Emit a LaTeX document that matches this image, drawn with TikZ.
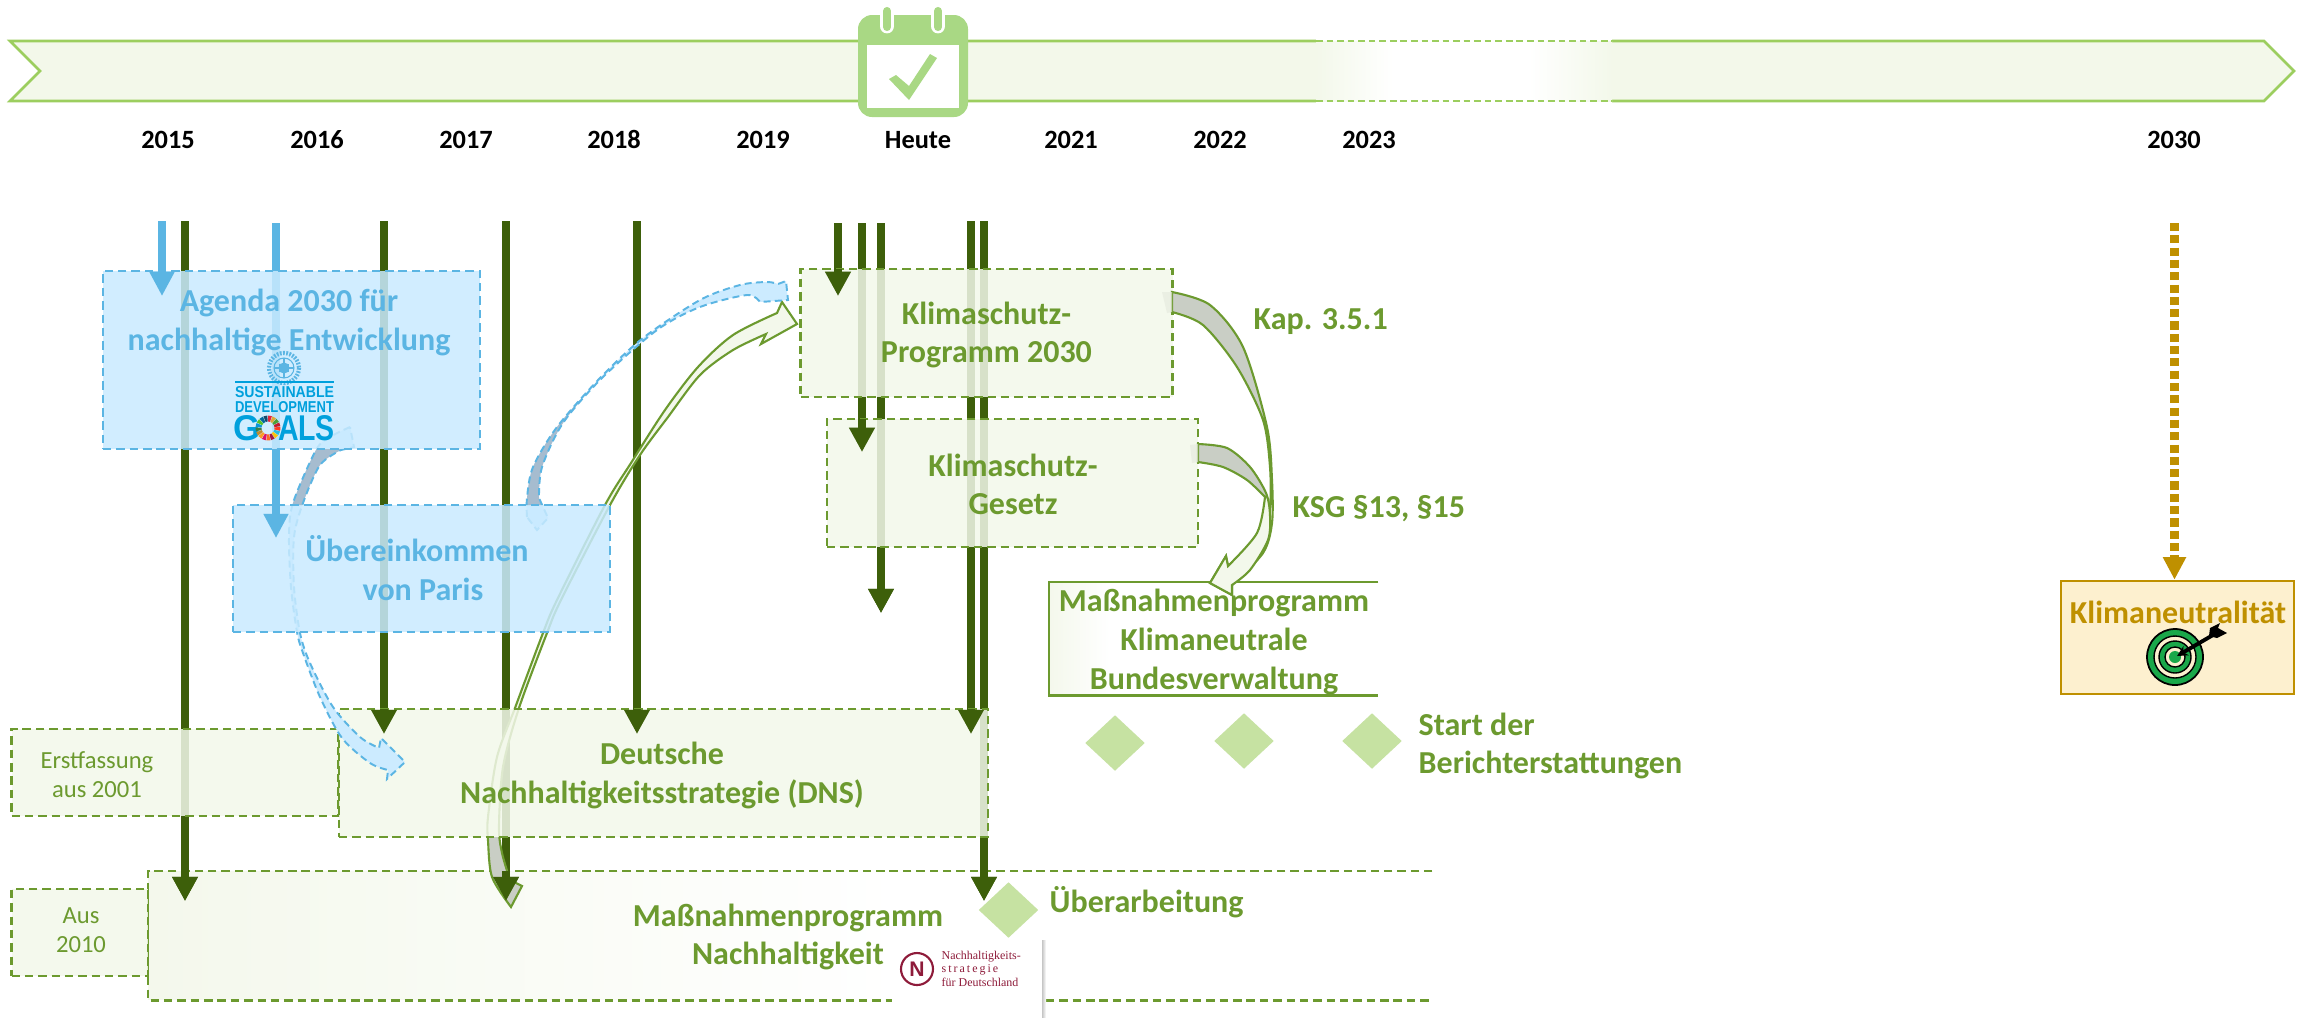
\documentclass[tikz,border=0pt]{standalone}
\usepackage{fontspec}
\setmainfont{Carlito}[Numbers=Lining]
\newfontfamily\logofont{Liberation Sans}
\newfontfamily\logoserif{Liberation Serif}
\usetikzlibrary{arrows.meta,shapes.geometric}
\definecolor{barfill}{HTML}{F3F8EA}
\definecolor{barline}{HTML}{9CCE5F}
\definecolor{calgreen}{HTML}{A9D884}
\definecolor{dgreen}{HTML}{3D5F0A}
\definecolor{mgreen}{HTML}{6C9A2F}
\definecolor{boxgreen}{HTML}{F3F8EB}
\definecolor{fadegreen}{HTML}{F4F8EC}
\definecolor{sblue}{HTML}{5BB5E3}
\definecolor{boxblue}{HTML}{C9EAFF}
\definecolor{bandblue}{HTML}{CCEBFF}
\definecolor{bandgrey}{HTML}{A6BCCF}
\definecolor{arcgrey}{HTML}{C9CEC5}
\definecolor{gold}{HTML}{BF9000}
\definecolor{goldfill}{HTML}{FDF0CF}
\definecolor{diam}{HTML}{C6E2A2}
\definecolor{sdgblue}{HTML}{00A0DC}
\definecolor{nred}{HTML}{8E1B3A}
\definecolor{targetgreen}{HTML}{1AA84A}
\newlength\pxu \setlength\pxu{0.01cm}
\tikzset{
  x=0.01cm,y=-0.01cm,
  sized/.style 2 args={minimum width={#1*0.01cm},minimum height={#2*0.01cm},inner sep=0pt},
  dashstroke/.style={line width=0.65pt,dash pattern=on 2.4pt off 1.4pt},
  greenbox/.style={draw=mgreen,fill=boxgreen,fill opacity=.85,dashstroke},
  bluebox/.style={draw=sblue,fill=boxblue,fill opacity=.85,dashstroke},
  greenarrow/.style={draw=dgreen,line width=2.5pt,-{Triangle[length=6.9pt,width=6.9pt]}},
  bluearrow/.style={draw=sblue,line width=2.5pt,-{Triangle[length=6.9pt,width=6.7pt]}},
  yearlabel/.style={font=\fontsize{7.5}{9}\selectfont\bfseries,text=black,inner sep=0pt,anchor=base},
  gtitle/.style={font=\fontsize{9.1}{11}\selectfont\bfseries,text=mgreen,align=center,inner sep=0pt},
  btitle/.style={font=\fontsize{9.1}{11}\selectfont\bfseries,text=sblue,align=center,inner sep=0pt},
  gside/.style={font=\fontsize{9.1}{11}\selectfont\bfseries,text=mgreen,align=left,anchor=west,inner sep=0pt},
  gsmall/.style={font=\fontsize{7}{8.3}\selectfont,text=mgreen,align=center,inner sep=0pt},
  milestone/.style={diamond,fill=diam,sized={60}{56}},
  curveline/.style={draw=mgreen,line width=0.6pt,line join=miter},
  bandline/.style={draw=sblue,line width=0.55pt,dash pattern=on 2pt off 1.2pt},
}
\begin{document}
\begin{tikzpicture}
\useasboundingbox (0,0) rectangle (2305,1017);
\fill[white] (0,0) rectangle (2305,1017);

%% timeline banner
\path[fill=barfill,draw=barline,line width=0.75pt] (10,41) -- (2264,41) -- (2294,71) -- (2264,101) -- (10,101) -- (40,71) -- cycle;
\fill[white] (1316,37) rectangle (1612,105);
\shade[left color=barfill,right color=white] (1316,41) rectangle (1393,101);
\shade[left color=white,right color=barfill] (1529,41) rectangle (1612,101);
\draw[barline,line width=0.75pt,dash pattern=on 1.9pt off 1.1pt] (1316,41) -- (1612,41) (1316,101) -- (1612,101);

%% calendar
\fill[calgreen,rounded corners=4pt] (858,15) rectangle (968,117);
\fill[white] (867,45) rectangle (959,108);
\foreach \rx in {887,938}{
  \draw[white,line width=4.2pt,line cap=round] (\rx,15) -- (\rx,26);
  \draw[calgreen,line width=2.3pt,line cap=round] (\rx,11) -- (\rx,27);
}
\fill[calgreen] (889,79) -- (896,75) -- (909,86) -- (930,54) -- (937,58) -- (909,100) -- cycle;

%% year labels
\node[yearlabel] (y15) at (168,148) {2015};
\node[yearlabel] (y16) at (317,148) {2016};
\node[yearlabel] (y17) at (466,148) {2017};
\node[yearlabel] (y18) at (614,148) {2018};
\node[yearlabel] (y19) at (763,148) {2019};
\node[yearlabel] (yh) at (918,148) {Heute};
\node[yearlabel] (y21) at (1071,148) {2021};
\node[yearlabel] (y22) at (1220,148) {2022};
\node[yearlabel] (y23) at (1369,148) {2023};
\node[yearlabel] (y30) at (2174,148) {2030};

%% Massnahmenprogramm Nachhaltigkeit: ground (under arrows)
\shade[left color=fadegreen,right color=white] (148,871) rectangle (900,999);
\node[sized={1283}{128},anchor=north west] (mn) at (148,871) {};
\draw[mgreen,dashstroke] (mn.north east) -- (mn.north west) -- (mn.south west) -- (mn.south east);

%% arrow end points: s = start, o = where the strong overlay begins, e = tip
\coordinate (b1s) at (162,221); \coordinate (b1o) at (162,271); \coordinate (b1e) at (162,296);
\coordinate (b2s) at (276,223); \coordinate (b2o) at (276,449); \coordinate (b2e) at (276,538);
\coordinate (g1s) at (185,221); \coordinate (g1o) at (185,871); \coordinate (g1e) at (185,901);
\coordinate (g2s) at (384,221); \coordinate (g2o) at (384,709); \coordinate (g2e) at (384,734);
\coordinate (g3s) at (506,221); \coordinate (g3o) at (506,871); \coordinate (g3e) at (506,901);
\coordinate (g4s) at (637,221); \coordinate (g4o) at (637,709); \coordinate (g4e) at (637,734);
\coordinate (g5s) at (838,223); \coordinate (g5o) at (838,269); \coordinate (g5e) at (838,296);
\coordinate (g6s) at (862,223); \coordinate (g6o) at (862,419); \coordinate (g6e) at (862,452);
\coordinate (g7s) at (881,223); \coordinate (g7o) at (881,585); \coordinate (g7e) at (881,613);
\coordinate (g8s) at (971,221); \coordinate (g8o) at (971,709); \coordinate (g8e) at (971,734);
\coordinate (g9s) at (984,221); \coordinate (g9o) at (984,871); \coordinate (g9e) at (984,901);

%% shafts, seen through the boxes
\foreach \n in {b1,b2}{\draw[bluearrow] (\n s) -- (\n e);}
\foreach \n in {g1,g2,g3,g4,g5,g6,g7,g8,g9}{\draw[greenarrow] (\n s) -- (\n e);}

%% curved arrow from Massnahmenprogramm to Klimaschutz-Programm
\def\pathC{(522,886) -- (511,907) -- plot[smooth] coordinates {(511,907) (492,877) (488,840) (488,817) (497,757) (515,708) (543,633) (557,600) (605,505) (631,463) (665,410) (698,367) (733,335) (777,313)} -- (782,302) -- (797,324) -- (761,344) -- (766,334) -- plot[smooth] coordinates {(766,334) (733,350) (700,375) (668,417) (640,455) (610,505) (561,600) (547,633) (519,708) (503,767) (499,827) (502,853) (510,880)} -- cycle}
\fill[boxgreen] \pathC;
\begin{scope}
  \clip (470,837) rectangle (540,920);
  \fill[arcgrey] \pathC;
\end{scope}
\draw[curveline] \pathC;

%% green boxes
\node[greenbox,sized={327}{87}] (erst) at (175,772.5) {};
\node[greenbox,sized={649}{128}] (dns) at (663.5,773) {};
\node[greenbox,sized={136.5}{87}] (aus) at (79.75,932.5) {};
\node[greenbox,sized={372}{128}] (prog) at (986.5,333) {};
\node[greenbox,sized={371}{128}] (ksg) at (1012.5,483) {};

%% Massnahmenprogramm Klimaneutrale Bundesverwaltung
\shade[left color=fadegreen,right color=white] (1049,582) rectangle (1110,694);
\node[sized={328}{112},anchor=north west] (kb) at (1049,582) {};
\draw[mgreen,line width=0.7pt] (kb.north east) -- (kb.north west) -- (kb.south west) -- (kb.south east);

%% blue curved arrows
\def\pathA{(350,427) -- plot[smooth] coordinates {(350,427) (330,437) (316,450) (293,503) (289,537) (291,587) (297,632) (303,653) (320,697) (342,738) (370,763) (388,770)} -- (387,779) -- (405,762) -- (381,738) -- (379,748) -- plot[smooth] coordinates {(379,748) (360,737) (333,707) (310,663) (300,633) (294,587) (294,537) (303,503) (320,465) (341,450)} -- (354,447) -- cycle}
\def\pathB{(527,517) -- plot[smooth] coordinates {(527,517) (527,498) (533,467) (557,427) (600,378) (643,338) (700,300) (740,285) (767,282) (778,284)} -- (786,281) -- (788,300) -- (760,302) -- plot[smooth] coordinates {(760,302) (747,295) (700,307) (657,330) (602,378) (563,423) (542,467) (539,498)} -- (548,518) -- (537,530) -- cycle}
\fill[bandblue] \pathA;
\begin{scope}
  \clip (270,449) rectangle (360,505);
  \fill[bandgrey] \pathA;
\end{scope}
\draw[bandline] \pathA;
\fill[bandblue] \pathB;
\begin{scope}
  \clip (515,400) rectangle (600,505);
  \fill[bandgrey] \pathB;
\end{scope}
\draw[bandline] \pathB;

%% blue boxes
\node[bluebox,sized={377}{178}] (agenda) at (291.5,360) {};
\node[bluebox,sized={377}{127}] (paris) at (421.5,568.5) {};

%% curved arrows into the Bundesverwaltung box
\def\pathD{(1172,292) -- plot[smooth] coordinates {(1172,292) (1210,305) (1243,347) (1267,427) (1272,480) (1272,523) (1263,553) (1232,585)} -- (1232,595) -- (1210,583) -- (1226,556) -- (1228,566) -- plot[smooth] coordinates {(1228,566) (1263,533) (1270,507) (1270,467) (1263,420) (1237,367) (1203,325) (1172,312)} -- cycle}
\def\pathE{(1198,444) -- plot[smooth] coordinates {(1198,444) (1227,448) (1250,467) (1266,493) (1270,515) (1268,540) (1250,570) (1232,585)} -- (1232,595) -- (1210,583) -- (1226,556) -- (1228,566) -- plot[smooth] coordinates {(1228,566) (1257,533) (1265,497)} -- plot[smooth] coordinates {(1265,497) (1247,480) (1223,467) (1198,462)} -- cycle}
\fill[boxgreen] \pathD;
\begin{scope}
  \clip (1165,285) rectangle (1290,425);
  \fill[arcgrey] \pathD;
\end{scope}
\draw[curveline] \pathD;
\fill[boxgreen] \pathE;
\begin{scope}
  \clip (1190,435) rectangle (1268,498);
  \fill[arcgrey] \pathE;
\end{scope}
\draw[curveline] \pathE;
\fill[fadegreen!70!arcgrey,opacity=.7] (1162,292) -- (1172,292) -- (1172,312) -- (1167,313) -- cycle;
\fill[fadegreen!70!arcgrey,opacity=.7] (1190,445) -- (1198,444) -- (1198,462) -- (1192,463) -- cycle;

%% strong heads above the boxes
\foreach \n in {b1,b2}{\draw[bluearrow] (\n o) -- (\n e);}
\foreach \n in {g1,g2,g3,g4,g5,g6,g7,g8,g9}{\draw[greenarrow] (\n o) -- (\n e);}

%% dotted gold arrow and goal box
\node[draw=gold,fill=goldfill,line width=0.75pt,sized={233}{113}] (goal) at (2177.5,637.5) {};
\coordinate (gas) at (2174.5,223);
\draw[gold,line width=2.4pt,dash pattern=on 2.3pt off 1.2pt,-{Triangle[length=6.4pt,width=6.2pt]}] (gas) -- (goal.north -| gas);
\node[font=\fontsize{9.1}{10.9}\selectfont\bfseries,text=gold,inner sep=0pt] (goalt) at (2178,612) {Klimaneutralität};
\fill[targetgreen,draw=black,line width=0.5pt] (2175,657) circle[radius=28];
\fill[goldfill,draw=black,line width=0.4pt] (2175,657) circle[radius=21];
\fill[targetgreen,draw=black,line width=0.4pt] (2175,657) circle[radius=16];
\fill[goldfill,draw=black,line width=0.4pt] (2175,657) circle[radius=10];
\fill[targetgreen] (2175,657) circle[radius=6];
\draw[black,line width=1.1pt,-{Stealth[length=3pt,width=3pt]}] (2213,635) -- (2177,656);
\fill[black] (2210,628) -- (2220,623) -- (2218,628) -- (2227,633) -- (2217,638) -- (2209,636) -- cycle;

%% SDG logo
\draw[sblue,line width=1.2pt,dash pattern=on 0.5pt off 0.4pt] (284,368) circle[radius=15];
\draw[sblue,line width=0.3pt] (284,368) circle[radius=10];
\draw[sblue,line width=0.3pt] (284,368) circle[radius=5];
\draw[sblue,line width=0.3pt] (274,368) -- (294,368) (284,358) -- (284,378);
\fill[sblue] (279,364) rectangle (289,372);
\draw[sdgblue,line width=0.3pt] (235,382) -- (334,382);
\node[inner sep=0pt,text=sdgblue] (sdg1) at (284.5,392) {\resizebox{99\pxu}{11\pxu}{\logofont\bfseries SUSTAINABLE}};
\node[inner sep=0pt,text=sdgblue] (sdg2) at (284.5,407) {\resizebox{99\pxu}{11\pxu}{\logofont\bfseries DEVELOPMENT}};
\node[inner sep=0pt,text=sdgblue] (sdg3) at (247,428) {\resizebox{27\pxu}{25\pxu}{\logofont\bfseries G}};
\node[inner sep=0pt,text=sdgblue] (sdg4) at (306.5,428) {\resizebox{57\pxu}{25\pxu}{\logofont\bfseries ALS}};
\foreach \i/\c in {0/E5243B,1/DDA63A,2/4C9F38,3/C5192D,4/FF3A21,5/26BDE2,6/FCC30B,7/A21942,8/FD6925,9/DD1367,10/FD9D24,11/BF8B2E,12/3F7E44,13/0A97D9,14/56C02B,15/00689D,16/19486A}{
  \definecolor{wheelc}{HTML}{\c}
  \pgfmathsetmacro\aa{-90+\i*360/17}
  \pgfmathsetmacro\ab{\aa+360/17-3}
  \fill[wheelc] ({268+6.5*cos(\aa)},{428+6.5*sin(\aa)}) -- ({268+12.5*cos(\aa)},{428+12.5*sin(\aa)}) -- ({268+12.5*cos(\ab)},{428+12.5*sin(\ab)}) -- ({268+6.5*cos(\ab)},{428+6.5*sin(\ab)}) -- cycle;
}

%% Nachhaltigkeitsstrategie logo
\shade[left color=black!28,right color=white] (1041,940) rectangle (1046,1017);
\node[fill=white,sized={150}{84},anchor=north west] (nlogo) at (891,933) {};
\node[draw=nred,line width=0.6pt,circle,sized={32}{32},text=nred,font=\logofont\fontsize{6}{6}\selectfont\bfseries] (nmark) at (917,969) {N};
\node[anchor=west,inner sep=0pt,text=nred,font=\logoserif\fontsize{3.4}{3.4}\selectfont] (nl1) at (941,957) {Nachhaltigkeits-};
\node[anchor=west,inner sep=0pt,text=nred,font=\logoserif\fontsize{3.4}{3.4}\selectfont] (nl2) at (941,970) {s\,t\,r\,a\,t\,e\,g\,i\,e};
\node[anchor=west,inner sep=0pt,text=nred,font=\logoserif\fontsize{3.4}{3.4}\selectfont] (nl3) at (941,982) {für Deutschland};

%% milestones
\node[milestone] (d1) at (1115,743) {};
\node[milestone] (d2) at (1244,741) {};
\node[milestone] (d3) at (1372,741) {};
\node[milestone] (d4) at (1008.5,910) {};

%% texts
\node[btitle] (tagenda) at (289,322.5) {Agenda 2030 für\\nachhaltige Entwicklung};
\node[btitle] (tparis) at (417,568) {Übereinkommen\\\hspace*{12\pxu}von Paris};
\node[gtitle] (tprog) at (986.5,335) {Klimaschutz-\\Programm 2030};
\node[gtitle] (tksg) at (1013,484.5) {Klimaschutz-\\Gesetz};
\node[gtitle] (tkb) at (1214,642) {Maßnahmenprogramm\\Klimaneutrale\\Bundesverwaltung};
\node[gtitle] (tdns) at (662,775.5) {Deutsche\\Nachhaltigkeitsstrategie (DNS)};
\node[gtitle] (tmn) at (788,937) {Maßnahmenprogramm\\Nachhaltigkeit};
\node[gsmall] (terst) at (97,774.5) {Erstfassung\\aus 2001};
\node[gsmall] (taus) at (81,930.5) {Aus\\2010};
\node[gside] (tkap) at (1253,322) {Kap. 3.5.1};
\node[gside] (tksgp) at (1292,509) {KSG §13, §15};
\node[gside] (tstart) at (1418,746) {Start der\\Berichterstattungen};
\node[gside] (tueb) at (1049,902) {Überarbeitung};
\end{tikzpicture}
\end{document}
